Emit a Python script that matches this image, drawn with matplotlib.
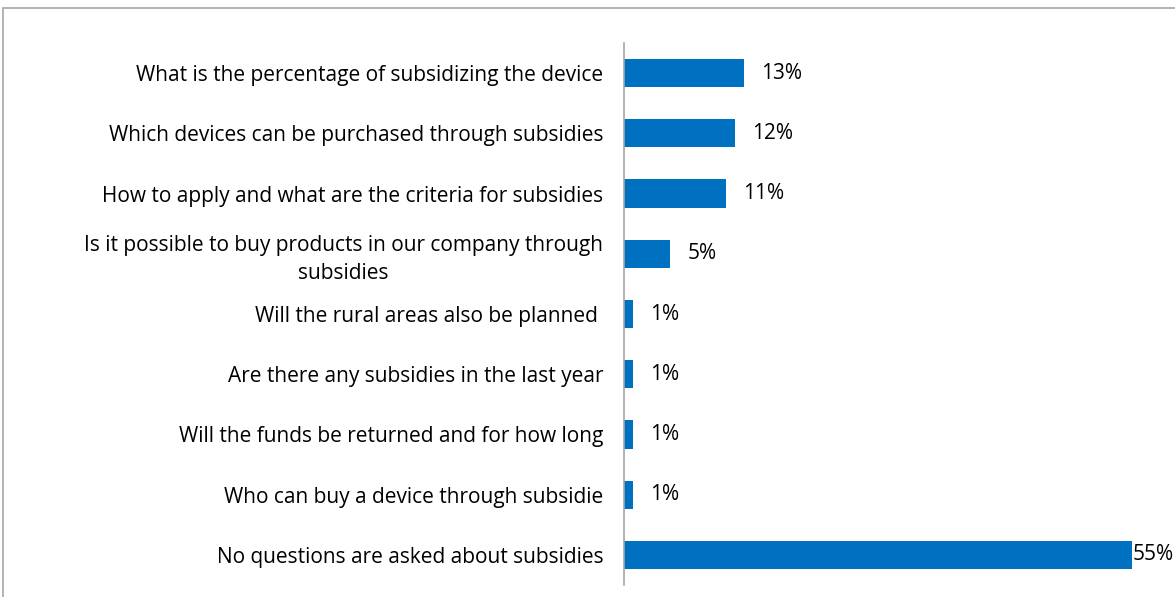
import matplotlib.pyplot as plt
from matplotlib.patches import Rectangle

questions = [
    "What is the percentage of subsidizing the device",
    "Which devices can be purchased through subsidies",
    "How to apply and what are the criteria for subsidies",
    "Is it possible to buy products in our company through\nsubsidies",
    "Will the rural areas also be planned ",
    "Are there any subsidies in the last year",
    "Will the funds be returned and for how long",
    "Who can buy a device through subsidie",
    "No questions are asked about subsidies",
]
shares = [13, 12, 11, 5, 1, 1, 1, 1, 55]

plt.rcParams['font.family'] = ['Open Sans', 'DejaVu Sans']

fig = plt.figure(figsize=(11.75, 5.97), dpi=100)

# grey frame around the chart area
fig.patches.append(Rectangle((3 / 1175, -0.1), 1.2, (597 - 8) / 597 + 0.1,
                             transform=fig.transFigure, fill=False,
                             edgecolor="#a6a6a6", linewidth=1.2))

ax = fig.add_axes([624 / 1175, 12 / 597, 508 / 1175, 542 / 597])

pos = list(range(len(questions)))
ax.barh(pos, shares, height=0.47, color="#0070c0")
ax.set_ylim(len(questions) - 0.5, -0.5)
ax.set_xlim(0, 55)

ax.set_yticks(pos)
ax.set_yticklabels(questions, fontsize=15, multialignment="center",
                   linespacing=1.4)
ax.tick_params(axis="y", length=0, pad=15)
ax.set_xticks([])

for s in ["top", "right", "bottom"]:
    ax.spines[s].set_visible(False)
ax.spines["left"].set_color("#a6a6a6")
ax.spines["left"].set_linewidth(1.2)

for i, v in enumerate(shares):
    off = 1 if v == max(shares) else 17
    ax.annotate(f"{v}%", (v, i), xytext=(off, 0), textcoords="offset pixels",
                va="center", ha="left", fontsize=15, annotation_clip=False)

fig.savefig("out.png", dpi=100)
